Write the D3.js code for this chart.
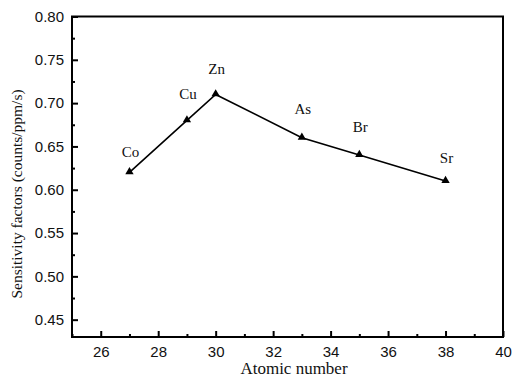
<!DOCTYPE html>
<html><head><meta charset="utf-8">
<script src="https://cdn.jsdelivr.net/npm/d3@7"></script>
<style>body{margin:0;background:#fff}svg{display:block}</style>
</head><body>
<svg id="c" width="513" height="378"></svg>
<script>
const elements = ["Co","Cu","Zn","As","Br","Sr"];
const atomicNumbers = [27,29,30,33,35,38];
const sensitivity = [0.62,0.68,0.71,0.66,0.64,0.61];
const labelLift = [15,21,20,24,23,18];
const xTicks = [26,28,30,32,34,36,38,40];
const yTicks = [0.45,0.50,0.55,0.60,0.65,0.70,0.75,0.80];

const svg = d3.select("#c");
const L=72, R=503, T=16.5, B=337;
const x = d3.scaleLinear().domain([25,40]).range([L,R]);
const y = d3.scaleLinear().domain([0.43,0.80]).range([B,T]);

const sans = "'Liberation Sans', Arial, sans-serif";
const serif = "'Liberation Serif', 'Times New Roman', serif";

// bottom axis
const xAxis = d3.axisBottom(x).tickValues(xTicks).tickSize(-6).tickPadding(9).tickFormat(d3.format("d"));
const gx = svg.append("g").attr("transform",`translate(0,${B})`).call(xAxis);
gx.select(".domain").remove();
gx.selectAll("line").attr("stroke","#000").attr("stroke-width",2);
gx.selectAll("text").attr("font-family",sans).attr("font-size",15).attr("fill","#111");
// minor x ticks
const gxm = svg.append("g").attr("transform",`translate(0,${B})`).call(d3.axisBottom(x).tickValues(d3.range(25,40,2)).tickSize(-3).tickFormat(""));
gxm.select(".domain").remove();
gxm.selectAll("line").attr("stroke","#000").attr("stroke-width",2);

// left axis
const yAxis = d3.axisLeft(y).tickValues(yTicks).tickSize(-6).tickPadding(8).tickFormat(d3.format(".2f"));
const gy = svg.append("g").attr("transform",`translate(${L},0)`).call(yAxis);
gy.select(".domain").remove();
gy.selectAll("line").attr("stroke","#000").attr("stroke-width",2);
gy.selectAll("text").attr("font-family",sans).attr("font-size",15).attr("fill","#111");
const gym = svg.append("g").attr("transform",`translate(${L},0)`).call(d3.axisLeft(y).tickValues(d3.range(0.475,0.80,0.05)).tickSize(-3).tickFormat(""));
gym.select(".domain").remove();
gym.selectAll("line").attr("stroke","#000").attr("stroke-width",2);

// frame
svg.append("rect").attr("x",L).attr("y",T).attr("width",R-L).attr("height",B-T)
  .attr("fill","none").attr("stroke","#000").attr("stroke-width",2);

// line
const pts = atomicNumbers.map((a,i)=>[a,sensitivity[i]]);
svg.append("path").datum(pts)
  .attr("d", d3.line().x(d=>x(d[0])).y(d=>y(d[1])))
  .attr("fill","none").attr("stroke","#000").attr("stroke-width",1.6);

// markers
const tri = d3.symbol().type(d3.symbolTriangle).size(30);
svg.selectAll(".m").data(pts).enter().append("path")
  .attr("d",tri).attr("transform",d=>`translate(${x(d[0])},${y(d[1])-0.5})`).attr("fill","#000");

// labels
svg.selectAll(".lab").data(elements).enter().append("text")
  .attr("x",(d,i)=>x(atomicNumbers[i])+1)
  .attr("y",(d,i)=>y(sensitivity[i])-labelLift[i])
  .attr("text-anchor","middle").attr("font-family",serif).attr("font-size",15).attr("fill","#111")
  .text(d=>d);

// axis titles
svg.append("text").attr("x",294).attr("y",374).attr("text-anchor","middle")
  .attr("font-family",serif).attr("font-size",17).attr("fill","#111").text("Atomic number");
svg.append("text").attr("transform",`translate(22,${194}) rotate(-90)`).attr("text-anchor","middle")
  .attr("font-family",serif).attr("font-size",15.5).attr("fill","#111").text("Sensitivity factors (counts/ppm/s)");
</script>
</body></html>
